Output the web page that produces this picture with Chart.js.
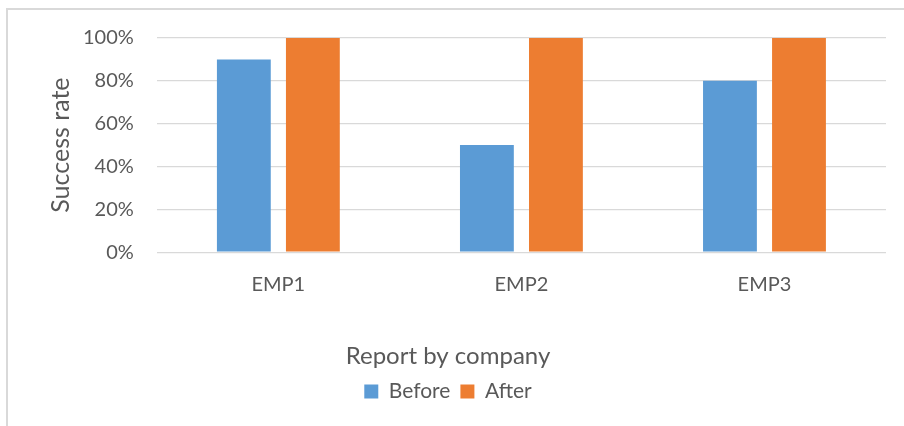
<!DOCTYPE html>
<html>
<head>
<meta charset="utf-8">
<script src="https://cdn.jsdelivr.net/npm/chart.js@4"></script>
<style>
  html, body { margin: 0; padding: 0; background: #fff; overflow: hidden; }
  #frame { position: absolute; left: 6px; top: 8px; width: 1000px; height: 1000px; border: 2px solid #d9d9d9; }
  #wrap { position: absolute; left: 0; top: 0; width: 904px; height: 426px; }
</style>
</head>
<body>
<div id="frame"></div>
<div id="wrap"><canvas id="chart"></canvas></div>
<script>
const categories = ['EMP1', 'EMP2', 'EMP3'];
const before = [0.9, 0.5, 0.8];
const after = [1, 1, 1];

const grey = '#595959';
const font = 'Lato, "Open Sans", sans-serif';

new Chart(document.getElementById('chart'), {
    type: 'bar',
    data: {
        labels: categories,
        datasets: [
            { label: 'Before', data: before, backgroundColor: '#5B9BD5' },
            { label: 'After', data: after, backgroundColor: '#ED7D31' }
        ]
    },
    options: {
        responsive: true,
        maintainAspectRatio: false,
        animation: false,
        categoryPercentage: 0.568,
        barPercentage: 0.78,
        layout: { padding: { left: 10, right: 18, top: 38, bottom: 14 } },
        plugins: {
            tooltip: { enabled: false },
            // axis title sits between the x axis and the legend, centred on the whole chart
            title: {
                display: true,
                position: 'bottom',
                weight: 500,
                text: 'Report by company',
                color: grey,
                font: { family: font, size: 24, weight: 'normal' },
                padding: { top: 26, bottom: 0 }
            },
            legend: {
                position: 'bottom',
                labels: {
                    color: grey,
                    font: { family: font, size: 21 },
                    boxWidth: 14,
                    boxHeight: 14,
                    padding: 10
                }
            }
        },
        scales: {
            x: {
                grid: { display: false, drawTicks: false },
                border: { display: false },
                ticks: { color: grey, font: { family: font, size: 20 }, padding: 20 }
            },
            y: {
                min: 0,
                max: 1,
                grid: { color: '#d9d9d9', lineWidth: 1.3, drawTicks: false },
                border: { display: false },
                ticks: {
                    stepSize: 0.2,
                    color: grey,
                    font: { family: font, size: 20 },
                    padding: 23,
                    callback: v => Math.round(v * 100) + '%'
                },
                title: {
                    display: true,
                    text: 'Success rate',
                    color: grey,
                    font: { family: font, size: 25 },
                    padding: { top: 36, bottom: -16 }
                }
            }
        }
    }
});
</script>
</body>
</html>
